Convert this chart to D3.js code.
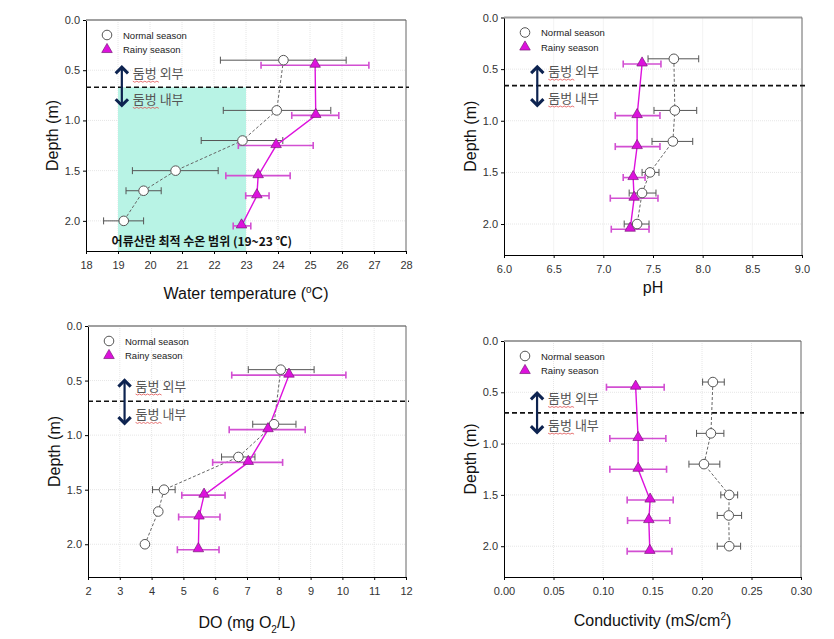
<!DOCTYPE html>
<html>
<head>
<meta charset="UTF-8">
<title>depth profiles</title>
<script src="https://cdn.jsdelivr.net/npm/d3@7"></script>
<style>
  body { margin: 0; background: #fff; }
  text { font-family: "Liberation Sans", Arial, sans-serif; }
  .kr { font-family: "Noto Sans CJK KR", sans-serif; }
</style>
</head>
<body>
<script>
// depths (m) at which the two seasons were sampled
var normalDepth = [0.40, 0.90, 1.20, 1.50, 1.70, 2.00];
var rainyDepth  = [0.45, 0.95, 1.25, 1.55, 1.75, 2.05];
var depthTicks  = [0.0, 0.5, 1.0, 1.5, 2.0];

// water temperature
var tempNormal   = [24.17, 23.96, 22.89, 20.80, 19.80, 19.18];
var tempNormalLo = [22.20, 22.29, 21.60, 19.45, 19.25, 18.55];
var tempNormalHi = [26.13, 25.65, 24.15, 22.13, 20.35, 19.80];
var tempRainy    = [25.16, 25.18, 23.94, 23.38, 23.34, 22.86];
var tempRainyLo  = [23.47, 24.43, 22.76, 22.37, 22.99, 22.60];
var tempRainyHi  = [26.84, 25.90, 25.10, 24.38, 23.72, 23.15];
var tempTicks    = [18, 19, 20, 21, 22, 23, 24, 25, 26, 27, 28];

// pH
var phNormal   = [7.71, 7.72, 7.70, 7.47, 7.39, 7.34];
var phNormalLo = [7.45, 7.51, 7.49, 7.39, 7.26, 7.21];
var phNormalHi = [7.96, 7.94, 7.90, 7.56, 7.53, 7.46];
var phRainy    = [7.39, 7.34, 7.34, 7.30, 7.31, 7.27];
var phRainyLo  = [7.20, 7.12, 7.12, 7.20, 7.07, 7.08];
var phRainyHi  = [7.58, 7.57, 7.57, 7.42, 7.55, 7.46];
var phTicks    = [6.0, 6.5, 7.0, 7.5, 8.0, 8.5, 9.0];

// dissolved oxygen
var doNormal   = [8.06, 7.85, 6.73, 4.39, 4.21, 3.79];
var doNormalLo = [7.04, 7.18, 6.20, 4.03, 4.21, 3.79];
var doNormalHi = [9.11, 8.54, 7.25, 4.74, 4.21, 3.79];
var doRainy    = [8.32, 7.66, 7.04, 5.65, 5.49, 5.47];
var doRainyLo  = [6.52, 6.44, 5.92, 4.95, 4.85, 4.81];
var doRainyHi  = [10.11, 8.83, 8.12, 6.31, 6.15, 6.12];
var doTicks    = [2, 3, 4, 5, 6, 7, 8, 9, 10, 11, 12];

// conductivity
var condNormal   = [0.211, 0.209, 0.202, 0.2275, 0.227, 0.2275];
var condNormalLo = [0.2006, 0.1945, 0.1868, 0.219, 0.2154, 0.2154];
var condNormalHi = [0.2225, 0.2221, 0.218, 0.236, 0.240, 0.239];
var condRainy    = [0.133, 0.1355, 0.1355, 0.1476, 0.1463, 0.1473];
var condRainyLo  = [0.1035, 0.1069, 0.1069, 0.1244, 0.1248, 0.1244];
var condRainyHi  = [0.1618, 0.1635, 0.1642, 0.1709, 0.1675, 0.1696];
var condTicks    = [0.00, 0.05, 0.10, 0.15, 0.20, 0.25, 0.30];

var legendLabels = ["Normal season", "Rainy season"];
var zoneLabels = ["둠벙 외부", "둠벙 내부"];
var spawnLabel = "어류산란 최적 수온 범위 (19~23 ℃)";
var spawnRange = [19, 23];

var pink = "#dd11dd";

var svg = d3.select("body").append("svg")
  .attr("width", 834)
  .attr("height", 639);

var panels = [
  { x0: 86, y0: 20, x1: 406, y1: 251, dom: [18, 28], ticks: tempTicks, fmt: d3.format("d"),
    nm: tempNormal, nlo: tempNormalLo, nhi: tempNormalHi, rn: tempRainy, rlo: tempRainyLo, rhi: tempRainyHi,
    split: 0.67, arrowX: 19.12, arrow: [0.45, 0.87], xlab: 42, label: "temp" },
  { x0: 504, y0: 17.5, x1: 802, y1: 255, dom: [6, 9], ticks: phTicks, fmt: d3.format(".1f"),
    nm: phNormal, nlo: phNormalLo, nhi: phNormalHi, rn: phRainy, rlo: phRainyLo, rhi: phRainyHi,
    split: 0.66, arrowX: 6.335, arrow: [0.46, 0.87], xlab: 32, label: "ph" },
  { x0: 88, y0: 326, x1: 406, y1: 577, dom: [2, 12], ticks: doTicks, fmt: d3.format("d"),
    nm: doNormal, nlo: doNormalLo, nhi: doNormalHi, rn: doRainy, rlo: doRainyLo, rhi: doRainyHi,
    split: 0.69, arrowX: 3.15, arrow: [0.48, 0.91], xlab: 45, label: "do" },
  { x0: 504, y0: 341, x1: 801, y1: 577, dom: [0, 0.3], ticks: condTicks, fmt: d3.format(".2f"),
    nm: condNormal, nlo: condNormalLo, nhi: condNormalHi, rn: condRainy, rlo: condRainyLo, rhi: condRainyHi,
    split: 0.70, arrowX: 0.0334, arrow: [0.49, 0.91], xlab: 43, label: "cond" }
];

svg.append("defs").selectAll("marker")
  .data(["head"])
  .enter().append("marker")
  .attr("id", "head")
  .attr("viewBox", "0 0 10 10")
  .attr("refX", 5).attr("refY", 5)
  .attr("markerWidth", 7).attr("markerHeight", 7)
  .attr("orient", "auto-start-reverse")
  .append("path")
  .attr("d", "M1,1 L5,5 L1,9")
  .attr("fill", "none")
  .attr("stroke", "#0d2350")
  .attr("stroke-width", 2);

panels.forEach(function (p) {
  var x = d3.scaleLinear().domain(p.dom).range([p.x0, p.x1]);
  var y = d3.scaleLinear().domain([0, 2.3]).range([p.y0, p.y1]);
  var g = svg.append("g");

  // faint grid
  g.selectAll(".gx").data(p.ticks.slice(1, -1)).enter().append("line")
    .attr("x1", x).attr("x2", x).attr("y1", p.y0).attr("y2", p.y1)
    .attr("stroke", "#e6e6e6").attr("stroke-dasharray", "1,1");
  g.selectAll(".gy").data(depthTicks.slice(1)).enter().append("line")
    .attr("x1", p.x0).attr("x2", p.x1).attr("y1", y).attr("y2", y)
    .attr("stroke", "#e6e6e6").attr("stroke-dasharray", "1,1");

  // spawning band, temperature only
  if (p.label == "temp") {
    g.append("rect")
      .attr("x", x(spawnRange[0])).attr("width", x(spawnRange[1]) - x(spawnRange[0]))
      .attr("y", y(p.split)).attr("height", y(2.3) - y(p.split))
      .attr("fill", "#b8f3e5");
  }

  // axes
  var xa = g.append("g").attr("transform", "translate(0," + p.y1 + ")")
    .call(d3.axisBottom(x).tickValues(p.ticks).tickFormat(p.fmt).tickSize(3).tickSizeOuter(0));
  var ya = g.append("g").attr("transform", "translate(" + p.x0 + ",0)")
    .call(d3.axisLeft(y).tickValues(depthTicks).tickFormat(d3.format(".1f")).tickSize(3).tickSizeOuter(0));
  [xa, ya].forEach(function (a) {
    a.selectAll("text").attr("font-size", 11).attr("fill", "#333")
      .attr("font-family", "Liberation Sans, Arial, sans-serif");
    a.select(".domain").attr("stroke", "#000");
  });
  xa.selectAll("text").attr("dy", "1.1em");

  // top and right frame
  g.append("line").attr("x1", p.x0).attr("x2", p.x1).attr("y1", p.y0).attr("y2", p.y0)
    .attr("stroke", "#a0a0a0").attr("stroke-width", 2);
  g.append("line").attr("x1", p.x1).attr("x2", p.x1).attr("y1", p.y0).attr("y2", p.y1)
    .attr("stroke", "#666");

  // dashed boundary
  g.append("line").attr("x1", p.x0).attr("x2", p.x1 + 3)
    .attr("y1", y(p.split)).attr("y2", y(p.split))
    .attr("stroke", "#111").attr("stroke-width", 1.6).attr("stroke-dasharray", "5,3");

  // arrow and zone labels
  g.append("line")
    .attr("x1", x(p.arrowX)).attr("x2", x(p.arrowX))
    .attr("y1", y(p.arrow[0]) + 2).attr("y2", y(p.arrow[1]) - 2)
    .attr("stroke", "#0d2350").attr("stroke-width", 2.2)
    .attr("marker-start", "url(#head)").attr("marker-end", "url(#head)");
  var zy = [p.split - 0.14, p.split + 0.12];
  zoneLabels.forEach(function (t, i) {
    var tx = x(p.arrowX) + 11;
    var ty = y(zy[i]) + 5;
    g.append("text").attr("class", "kr")
      .attr("x", tx).attr("y", ty)
      .attr("font-size", 13).attr("fill", "#555").text(t);
    var w = d3.range(0, 27, 2).map(function (k) { return [tx + k, ty + 3 + (k % 4 ? 1 : 0)]; });
    g.append("path").attr("d", d3.line()(w))
      .attr("fill", "none").attr("stroke", "#e05050").attr("stroke-width", 0.8);
  });

  if (p.label == "temp") {
    g.append("text").attr("class", "kr")
      .attr("x", x(18.8)).attr("y", y(2.2) + 5)
      .attr("font-size", 12).attr("font-weight", "bold").attr("fill", "#111")
      .text(spawnLabel);
  }

  function errbars(vals, lo, hi, dep, col, w) {
    var eb = g.append("g").attr("stroke", col).attr("stroke-width", w);
    vals.forEach(function (v, i) {
      eb.append("line").attr("x1", x(lo[i])).attr("x2", x(hi[i])).attr("y1", y(dep[i])).attr("y2", y(dep[i]));
      eb.append("line").attr("x1", x(lo[i])).attr("x2", x(lo[i])).attr("y1", y(dep[i]) - 3.5).attr("y2", y(dep[i]) + 3.5);
      eb.append("line").attr("x1", x(hi[i])).attr("x2", x(hi[i])).attr("y1", y(dep[i]) - 3.5).attr("y2", y(dep[i]) + 3.5);
    });
  }

  var line = d3.line().x(function (d) { return x(d[0]); }).y(function (d) { return y(d[1]); });

  errbars(p.nm, p.nlo, p.nhi, normalDepth, "#555", 1);
  g.append("path").attr("d", line(d3.zip(p.nm, normalDepth)))
    .attr("fill", "none").attr("stroke", "#666").attr("stroke-dasharray", "3,2");

  errbars(p.rn, p.rlo, p.rhi, rainyDepth, "#d24fd2", 1.6);
  g.append("path").attr("d", line(d3.zip(p.rn, rainyDepth)))
    .attr("fill", "none").attr("stroke", pink).attr("stroke-width", 1.4);

  g.selectAll(".nc").data(d3.zip(p.nm, normalDepth)).enter().append("circle")
    .attr("cx", function (d) { return x(d[0]); })
    .attr("cy", function (d) { return y(d[1]); })
    .attr("r", 4.8).attr("fill", "#fff").attr("stroke", "#555");

  var tri = d3.symbol().type(d3.symbolTriangle).size(48);
  g.selectAll(".rt").data(d3.zip(p.rn, rainyDepth)).enter().append("path")
    .attr("d", tri)
    .attr("transform", function (d) { return "translate(" + x(d[0]) + "," + (y(d[1]) - 1) + ")"; })
    .attr("fill", pink).attr("stroke", "#7a1a7a").attr("stroke-width", 0.7);

  // legend
  var lx = p.x0 + 21, ly = p.y0 + 15;
  g.append("circle").attr("cx", lx).attr("cy", ly).attr("r", 4.8)
    .attr("fill", "#fff").attr("stroke", "#555");
  g.append("path").attr("d", tri).attr("transform", "translate(" + lx + "," + (ly + 14.5) + ")")
    .attr("fill", pink).attr("stroke", "#7a1a7a").attr("stroke-width", 0.7);
  legendLabels.forEach(function (t, i) {
    g.append("text").attr("x", lx + 16).attr("y", ly + 3.5 + i * 14.5)
      .attr("font-size", 9.5).attr("fill", "#222").text(t);
  });

  // axis titles
  var cy = (p.y0 + p.y1) / 2;
  g.append("text")
    .attr("transform", "translate(" + (p.x0 - 34) + "," + cy + ") rotate(-90)")
    .attr("text-anchor", "middle").attr("dy", "0.35em")
    .attr("font-size", 16).attr("fill", "#111").text("Depth (m)");

  var xt = g.append("text").attr("x", (p.x0 + p.x1) / 2).attr("y", p.y1 + p.xlab + 6)
    .attr("text-anchor", "middle").attr("font-size", 16).attr("fill", "#111");
  if (p.label == "temp") {
    xt.text("Water temperature (");
    xt.append("tspan").attr("dy", -6).attr("font-size", 10).text("o");
    xt.append("tspan").attr("dy", 6).text("C)");
  } else if (p.label == "ph") {
    xt.text("pH");
  } else if (p.label == "do") {
    xt.text("DO (mg O");
    xt.append("tspan").attr("dy", 5).attr("font-size", 10).text("2");
    xt.append("tspan").attr("dy", -5).text("/L)");
  } else {
    xt.text("Conductivity (m");
    xt.append("tspan").attr("font-style", "italic").text("S");
    xt.append("tspan").text("/cm");
    xt.append("tspan").attr("dy", -6).attr("font-size", 10).text("2");
    xt.append("tspan").attr("dy", 6).text(")");
  }
});
</script>
</body>
</html>
